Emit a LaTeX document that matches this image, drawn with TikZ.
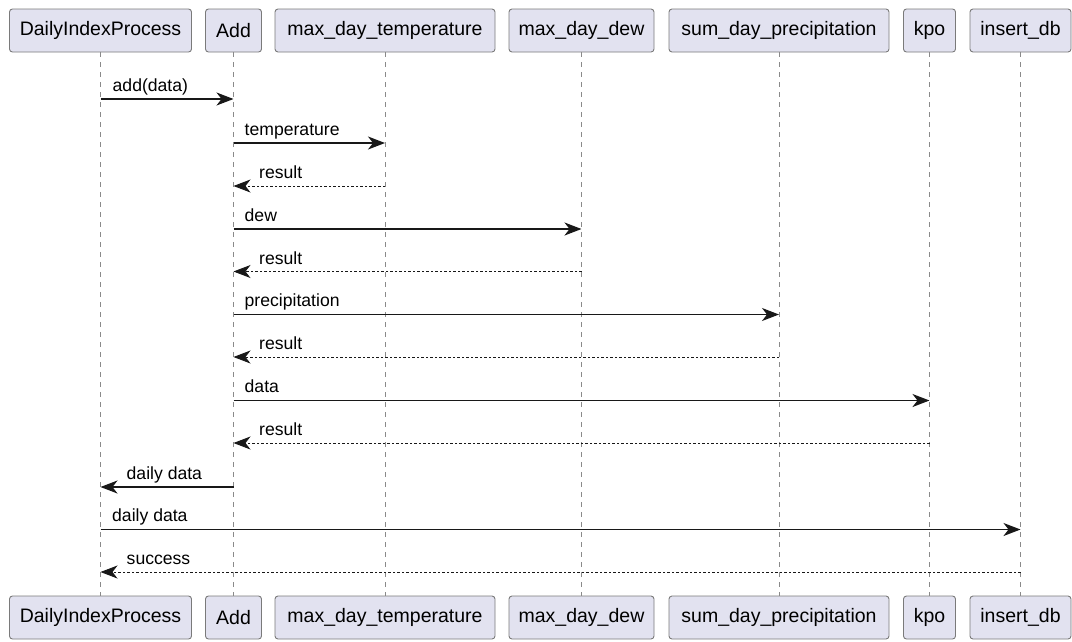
\documentclass[tikz,border=0pt]{standalone}
\usepackage{fontspec}
\setmainfont{Liberation Sans}
\usetikzlibrary{arrows.meta,calc}
\definecolor{boxfill}{HTML}{E2E2F0}
\definecolor{boxline}{HTML}{7A7A7A}
\definecolor{lifecol}{HTML}{8A8A8A}
\definecolor{ink}{HTML}{181818}
\tikzset{
  part/.style={draw=boxline, fill=boxfill, line width=0.9pt, rounded corners=3pt,
    minimum height=43pt, inner sep=0pt, font=\fontsize{19.5}{22}\selectfont, text=black},
  life/.style={draw=lifecol, line width=0.8pt, dash pattern=on 5pt off 5pt},
  msg/.style={draw=ink, line width=1.3pt, -{Stealth[length=17pt,width=13pt,inset=5pt]}},
  ret/.style={draw=ink, line width=0.9pt, dash pattern=on 2.5pt off 2pt,
    -{Stealth[length=17pt,width=13pt,inset=5pt,line width=0.9pt,fill=ink]}},
  lbl/.style={anchor=base west, inner sep=0pt, font=\fontsize{17.6}{20}\selectfont, text=black},
}
\begin{document}
\begin{tikzpicture}[x=1pt,y=-1pt]
\useasboundingbox (0,0) rectangle (1072,641);
% participants (top)
\node[part, minimum width=182pt] (A) at (100.5,30.5) {DailyIndexProcess};
\node[part, minimum width=56pt]  (B) at (233.5,30.5) {Add};
\node[part, minimum width=220pt] (C) at (385,30.5) {max\_day\_temperature};
\node[part, minimum width=145pt] (D) at (581.5,30.5) {max\_day\_dew};
\node[part, minimum width=220pt] (E) at (779,30.5) {sum\_day\_precipitation};
\node[part, minimum width=52pt]  (F) at (929.5,30.5) {kpo};
\node[part, minimum width=101pt] (G) at (1020.5,30.5) {insert\_db};
% participants (bottom)
\node[part, minimum width=182pt] (A2) at (100.5,617.5) {DailyIndexProcess};
\node[part, minimum width=56pt]  (B2) at (233.5,617.5) {Add};
\node[part, minimum width=220pt] (C2) at (385,617.5) {max\_day\_temperature};
\node[part, minimum width=145pt] (D2) at (581.5,617.5) {max\_day\_dew};
\node[part, minimum width=220pt] (E2) at (779,617.5) {sum\_day\_precipitation};
\node[part, minimum width=52pt]  (F2) at (929.5,617.5) {kpo};
\node[part, minimum width=101pt] (G2) at (1020.5,617.5) {insert\_db};
% lifelines
\foreach \p in {A,B,C,D,E,F,G}{
  \draw[life] (\p.south) -- (\p2.north);
}
% message rows
\foreach \i/\yy in {1/99,2/143,3/186,4/229,5/271.5,6/314.5,7/357,8/400.5,9/443,10/487,11/529.5,12/572}{
  \coordinate (r\i) at (0,\yy);
}
% messages
\draw[msg] (A |- r1) -- (B |- r1);
\node[lbl] at ($(A |- r1)+(12,-8)$) {add(data)};
\draw[msg] (B |- r2) -- (C |- r2);
\node[lbl] at ($(B |- r2)+(11,-8)$) {temperature};
\draw[ret] (C |- r3) -- (B |- r3);
\node[lbl] at ($(B |- r3)+(25.5,-7.5)$) {result};
\draw[msg] (B |- r4) -- (D |- r4);
\node[lbl] at ($(B |- r4)+(11,-8)$) {dew};
\draw[ret] (D |- r5) -- (B |- r5);
\node[lbl] at ($(B |- r5)+(25.5,-7.5)$) {result};
\draw[msg] (B |- r6) -- (E |- r6);
\node[lbl] at ($(B |- r6)+(11,-8)$) {precipitation};
\draw[ret] (E |- r7) -- (B |- r7);
\node[lbl] at ($(B |- r7)+(25.5,-7.5)$) {result};
\draw[msg] (B |- r8) -- (F |- r8);
\node[lbl] at ($(B |- r8)+(11,-8)$) {data};
\draw[ret] (F |- r9) -- (B |- r9);
\node[lbl] at ($(B |- r9)+(25.5,-7.5)$) {result};
\draw[msg] (B |- r10) -- (A |- r10);
\node[lbl] at ($(A |- r10)+(26,-8)$) {daily data};
\draw[msg] (A |- r11) -- (G |- r11);
\node[lbl] at ($(A |- r11)+(11.5,-8)$) {daily data};
\draw[ret] (G |- r12) -- (A |- r12);
\node[lbl] at ($(A |- r12)+(26,-7.5)$) {success};
\end{tikzpicture}
\end{document}
